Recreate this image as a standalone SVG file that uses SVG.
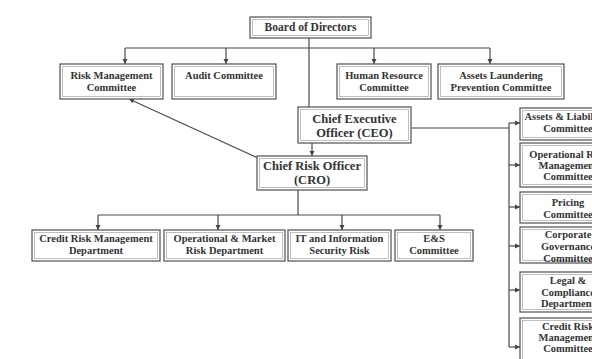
<svg xmlns="http://www.w3.org/2000/svg" width="592" height="359" viewBox="0 0 592 359">
<defs>
<marker id="ah" markerWidth="6" markerHeight="6" refX="5" refY="3" orient="auto" markerUnits="userSpaceOnUse">
<path d="M0,0.5 L5,3 L0,5.5 Z" fill="#444"/>
</marker>
</defs>
<style>
.b{fill:#fff;stroke:#5c5c5c;stroke-width:1.3}
.i{fill:none;stroke:#b0b0b0;stroke-width:0.8}
.t{font-family:"Liberation Serif","Times New Roman",serif;font-weight:bold;font-size:10.5px;fill:#333;text-anchor:middle}
.l{font-size:12.5px}
.c{fill:none;stroke:#4a4a4a;stroke-width:1.2}
.a{marker-end:url(#ah)}
</style>
<rect width="592" height="359" fill="#fff"/>
<g id="connectors">
<path class="c" d="M309,38 V107"/>
<path class="c" d="M125,48 H490"/>
<path class="c a" d="M125,48 V64"/>
<path class="c a" d="M226,48 V64"/>
<path class="c a" d="M374,48 V64"/>
<path class="c a" d="M490,48 V64"/>
<path class="c a" d="M312,143 V156"/>
<path class="c a" d="M258,158 L129,99"/>
<path class="c" d="M298,190 V215"/>
<path class="c" d="M98,215 H440"/>
<path class="c a" d="M98,215 V230"/>
<path class="c a" d="M218,215 V230"/>
<path class="c a" d="M342,215 V230"/>
<path class="c a" d="M440,215 V230"/>
<path class="c" d="M411,128 H509"/>
<path class="c" d="M509,123 V347"/>
<path class="c a" d="M509,123 H520"/>
<path class="c a" d="M509,165 H520"/>
<path class="c a" d="M509,207 H520"/>
<path class="c a" d="M509,246 H520"/>
<path class="c a" d="M509,290 H520"/>
<path class="c a" d="M509,347 H520"/>
</g>
<g id="board">
<rect class="b" x="250" y="17" width="121" height="21"/><rect class="i" x="252.5" y="19.5" width="116" height="16"/>
<text class="t" x="310.5" y="31" style="font-size:11.5px">Board of Directors</text>
</g>
<g id="risk-mgmt-committee">
<rect class="b" x="60" y="64" width="103" height="35"/><rect class="i" x="62.5" y="66.5" width="98" height="30"/>
<text class="t" x="111.5" y="79">Risk Management</text>
<text class="t" x="111.5" y="91">Committee</text>
</g>
<g id="audit-committee">
<rect class="b" x="172" y="64" width="104" height="35"/><rect class="i" x="174.5" y="66.5" width="99" height="30"/>
<text class="t" x="224" y="79">Audit Committee</text>
</g>
<g id="hr-committee">
<rect class="b" x="337" y="64" width="94" height="35"/><rect class="i" x="339.5" y="66.5" width="89" height="30"/>
<text class="t" x="384" y="79">Human Resource</text>
<text class="t" x="384" y="91">Committee</text>
</g>
<g id="laundering-committee">
<rect class="b" x="438" y="64" width="126" height="35"/><rect class="i" x="440.5" y="66.5" width="121" height="30"/>
<text class="t" x="501" y="79">Assets Laundering</text>
<text class="t" x="501" y="91">Prevention Committee</text>
</g>
<g id="ceo">
<rect class="b" x="298" y="107" width="113" height="36"/><rect class="i" x="300.5" y="109.5" width="108" height="31"/>
<text class="t l" x="354.5" y="123">Chief Executive</text>
<text class="t l" x="354.5" y="137">Officer (CEO)</text>
</g>
<g id="cro">
<rect class="b" x="257" y="156" width="110" height="34"/><rect class="i" x="259.5" y="158.5" width="105" height="29"/>
<text class="t l" x="312" y="170">Chief Risk Officer</text>
<text class="t l" x="312" y="184">(CRO)</text>
</g>
<g id="credit-risk-dept">
<rect class="b" x="32" y="230" width="128" height="31"/><rect class="i" x="34.5" y="232.5" width="123" height="26"/>
<text class="t" x="96" y="242">Credit Risk Management</text>
<text class="t" x="96" y="254">Department</text>
</g>
<g id="op-market-dept">
<rect class="b" x="164" y="230" width="121" height="31"/><rect class="i" x="166.5" y="232.5" width="116" height="26"/>
<text class="t" x="224.5" y="242">Operational &amp; Market</text>
<text class="t" x="224.5" y="254">Risk Department</text>
</g>
<g id="it-security">
<rect class="b" x="288" y="230" width="103" height="31"/><rect class="i" x="290.5" y="232.5" width="98" height="26"/>
<text class="t" x="339.5" y="242">IT and Information</text>
<text class="t" x="339.5" y="254">Security Risk</text>
</g>
<g id="es-committee">
<rect class="b" x="395" y="230" width="78" height="31"/><rect class="i" x="397.5" y="232.5" width="73" height="26"/>
<text class="t" x="434" y="242">E&amp;S</text>
<text class="t" x="434" y="254">Committee</text>
</g>
<g id="alco">
<rect class="b" x="520" y="108" width="96" height="32"/><rect class="i" x="522.5" y="110.5" width="91" height="27"/>
<text class="t" x="568" y="120">Assets &amp; Liabilities</text>
<text class="t" x="568" y="132">Committee</text>
</g>
<g id="op-risk-committee">
<rect class="b" x="520" y="143" width="96" height="44"/><rect class="i" x="522.5" y="145.5" width="91" height="39"/>
<text class="t" x="568" y="158">Operational Risk</text>
<text class="t" x="568" y="169">Management</text>
<text class="t" x="568" y="180">Committee</text>
</g>
<g id="pricing-committee">
<rect class="b" x="520" y="192" width="96" height="31"/><rect class="i" x="522.5" y="194.5" width="91" height="26"/>
<text class="t" x="568" y="206">Pricing</text>
<text class="t" x="568" y="218">Committee</text>
</g>
<g id="governance-committee">
<rect class="b" x="520" y="227" width="96" height="36"/><rect class="i" x="522.5" y="229.5" width="91" height="31"/>
<text class="t" x="568" y="238">Corporate</text>
<text class="t" x="568" y="250">Governance</text>
<text class="t" x="568" y="262">Committee</text>
</g>
<g id="legal-compliance">
<rect class="b" x="520" y="272" width="96" height="40"/><rect class="i" x="522.5" y="274.5" width="91" height="35"/>
<text class="t" x="568" y="284">Legal &amp;</text>
<text class="t" x="568" y="296">Compliance</text>
<text class="t" x="568" y="307">Department</text>
</g>
<g id="credit-risk-committee">
<rect class="b" x="520" y="318" width="96" height="45"/><rect class="i" x="522.5" y="320.5" width="91" height="40"/>
<text class="t" x="568" y="330">Credit Risk</text>
<text class="t" x="568" y="341">Management</text>
<text class="t" x="568" y="352">Committee</text>
</g>
</svg>
